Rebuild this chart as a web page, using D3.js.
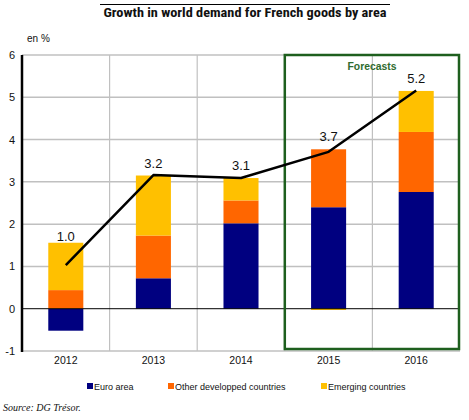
<!DOCTYPE html>
<html><head><meta charset="utf-8">
<script src="https://cdn.jsdelivr.net/npm/d3@7"></script>
<style>body{margin:0;background:#fff}svg{display:block}</style>
</head><body>
<svg id="c" width="469" height="420"></svg>
<script>
const years = ["2012","2013","2014","2015","2016"];
const euroArea = [-0.52, 0.72, 2.02, 2.40, 2.76];
const otherDeveloped = [0.44, 1.01, 0.54, 1.37, 1.42];
const emerging = [1.12, 1.42, 0.53, -0.03, 0.97];
const totals = [1.03, 3.16, 3.09, 3.71, 5.16];
const yTicks = [-1, 0, 1, 2, 3, 4, 5, 6];
const seriesNames = ["Euro area", "Other developped countries", "Emerging countries"];
const seriesColors = ["#000080", "#FF6600", "#FFC000"];
const forecastYears = ["2015","2016"];

const svg = d3.select("#c");
const x = d3.scaleBand().domain(years).range([22, 460]).padding(0);
const y = d3.scaleLinear().domain([-1, 6]).range([351, 55]);
const bw = x.bandwidth() * 0.4;

// title
svg.append("line").attr("x1",100).attr("x2",390).attr("y1",4.5).attr("y2",4.5).attr("stroke","#000").attr("stroke-width",1);
svg.append("text").attr("x",245).attr("y",17).attr("text-anchor","middle")
  .attr("font-family","'Liberation Sans Narrow','Roboto Condensed','Liberation Sans',Arial,sans-serif")
  .attr("font-weight","bold").attr("font-size",13.5).attr("textLength",283).attr("lengthAdjust","spacingAndGlyphs")
  .attr("fill","#111").text("Growth in world demand for French goods by area");
svg.append("text").attr("x",27).attr("y",42).attr("font-family","'Liberation Sans',Arial,sans-serif").attr("font-size",10).attr("fill","#111").text("en %");

// grid
svg.selectAll(".hg").data(yTicks.filter(d=>d!==0)).join("line")
  .attr("x1",22).attr("x2",460).attr("y1",d=>y(d)).attr("y2",d=>y(d))
  .attr("stroke","#c0c0c0").attr("stroke-width",1.5);
svg.selectAll(".vg").data(years.slice(1)).join("line")
  .attr("x1",d=>x(d)).attr("x2",d=>x(d)).attr("y1",y(6)).attr("y2",y(-1))
  .attr("stroke","#c0c0c0").attr("stroke-width",1.2);

// stacked bars
const rows = years.map((yr,i)=>({year:yr, v:[euroArea[i], otherDeveloped[i], emerging[i]]}));
rows.forEach(r=>{
  let pos=0, neg=0;
  r.segs = r.v.map((v,k)=>{
    let y0,y1;
    if(v>=0){y0=pos;y1=pos+v;pos=y1;} else {y0=neg;y1=neg+v;neg=y1;}
    return {k, y0, y1, year:r.year};
  });
  r.top = pos;
});
const g = svg.append("g");
rows.forEach(r=>{
  g.selectAll(null).data(r.segs).join("rect")
    .attr("x", x(r.year)+x.bandwidth()/2-bw/2).attr("width", bw)
    .attr("y", d=>y(Math.max(d.y0,d.y1))).attr("height", d=>Math.abs(y(d.y0)-y(d.y1)))
    .attr("fill", d=>seriesColors[d.k]);
});

// zero line + left axis
svg.append("line").attr("x1",22).attr("x2",460).attr("y1",y(0)).attr("y2",y(0)).attr("stroke","#000").attr("stroke-width",1);
svg.append("line").attr("x1",22).attr("x2",22).attr("y1",y(6)).attr("y2",y(-1)+1).attr("stroke","#000").attr("stroke-width",2.5);

// y tick labels
svg.selectAll(".yl").data(yTicks).join("text")
  .attr("x",15).attr("y",d=>y(d)+4).attr("text-anchor","end")
  .attr("font-family","'Liberation Sans',Arial,sans-serif").attr("font-size",11).attr("fill","#111").text(d=>d);

// x labels
svg.selectAll(".xl").data(years).join("text")
  .attr("x",d=>x(d)+x.bandwidth()/2).attr("y",364).attr("text-anchor","middle")
  .attr("font-family","'Liberation Sans',Arial,sans-serif").attr("font-size",10.5).attr("fill","#111").text(d=>d);

// forecast box
const bx0 = x(forecastYears[0]), bx1 = x(forecastYears[1]) + x.bandwidth() - 1;
svg.append("rect").attr("x",bx0).attr("y",y(6)).attr("width",bx1-bx0).attr("height",y(-1)-y(6)-2)
  .attr("fill","none").attr("stroke","#1e5f1e").attr("stroke-width",2.5);
svg.append("text").attr("x",372).attr("y",70).attr("text-anchor","middle")
  .attr("font-family","'Liberation Sans Narrow','Liberation Sans',Arial,sans-serif").attr("font-weight","bold")
  .attr("font-size",11.5).attr("textLength",49).attr("lengthAdjust","spacingAndGlyphs").attr("fill","#2f6b2f").text("Forecasts");

// total line
const line = d3.line().x((d,i)=>x(years[i])+x.bandwidth()/2).y(d=>y(d));
svg.append("path").attr("d",line(totals)).attr("fill","none").attr("stroke","#000").attr("stroke-width",2.5).attr("stroke-linejoin","round");

// value labels
svg.selectAll(".vl").data(rows).join("text")
  .attr("x",d=>x(d.year)+x.bandwidth()/2).attr("y",(d,i)=>y(d.top)-(i===0?2:8)).attr("text-anchor","middle")
  .attr("font-family","'Liberation Sans',Arial,sans-serif").attr("font-size",13).attr("fill","#111")
  .text((d,i)=>d3.format(".1f")(totals[i]));

// legend
const legX = [87, 168, 321];
const lg = svg.selectAll(".lg").data(seriesNames).join("g").attr("transform",(d,i)=>`translate(${legX[i]},383)`);
lg.append("rect").attr("width",6).attr("height",6).attr("fill",(d,i)=>seriesColors[i]);
lg.append("text").attr("x",7).attr("y",6.5).attr("font-family","'Liberation Sans',Arial,sans-serif").attr("font-size",9).attr("fill","#111").text(d=>d);

// source
svg.append("text").attr("x",3).attr("y",411).attr("font-family","'Liberation Serif','Times New Roman',serif").attr("font-style","italic")
  .attr("font-size",10).attr("fill","#111").text("Source: DG Trésor.");
</script>
</body></html>
